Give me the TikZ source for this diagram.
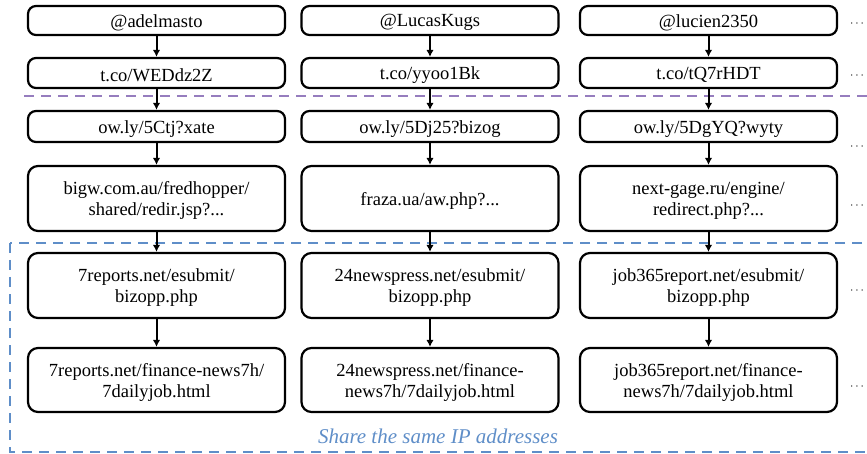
\documentclass[tikz,border=0pt]{standalone}
\usepackage{fontspec}
\setmainfont{Liberation Serif}
\newfontfamily\tnr{Liberation Serif}
\usetikzlibrary{arrows.meta}
\definecolor{purp}{RGB}{150,125,190}
\definecolor{bluel}{RGB}{95,142,200}
\newcommand{\tstrut}{\rule{0pt}{17pt}}
\begin{document}
\begin{tikzpicture}[x=1pt,y=-1pt,
  box/.style={draw,line width=2.2pt,rounded corners=8pt,minimum width=257pt,align=center,
    font=\tnr\fontsize{18.5}{21}\selectfont,inner sep=0pt},
  bigbox/.style={box,rounded corners=10pt},
  arr/.style={-{Latex[length=7pt,width=7.5pt]},line width=2pt},
  dotsn/.style={font=\fontsize{13}{15}\selectfont,inner sep=0pt},
  dashline/.style={line width=2pt,dash pattern=on 10pt off 7pt}]
\clip (0,0) rectangle (867,454);
% dashed separators
\draw[purp,dashline] (24,96) -- (870,96);
\draw[bluel,dashline] (10,243) rectangle (890,452);
\node[text=bluel,font=\tnr\itshape\fontsize{21}{24}\selectfont,anchor=base] (ip) at (438,443) {Share the same IP addresses};
% row 1
\node[box,minimum height=29pt] (u1) at (156.5,20.5) {\tstrut@adelmasto};
\node[box,minimum height=29pt] (u2) at (430,20.5) {\tstrut@LucasKugs};
\node[box,minimum height=29pt] (u3) at (708.5,20.5) {\tstrut@lucien2350};
% row 2
\node[box,minimum height=30pt] (t1) at (156.5,73) {\tstrut t.co/WEDdz2Z};
\node[box,minimum height=30pt] (t2) at (430,73) {\tstrut t.co/yyoo1Bk};
\node[box,minimum height=30pt] (t3) at (708.5,73) {\tstrut t.co/tQ7rHDT};
% row 3
\node[box,minimum height=31pt] (o1) at (156.5,126.5) {\tstrut ow.ly/5Ctj?xate};
\node[box,minimum height=31pt] (o2) at (430,126.5) {\tstrut ow.ly/5Dj25?bizog};
\node[box,minimum height=31pt] (o3) at (708.5,126.5) {\tstrut ow.ly/5DgYQ?wyty};
% row 4
\node[bigbox,minimum height=65pt] (r1) at (156.5,198.5) {\tstrut bigw.com.au/fredhopper/\\shared/redir.jsp?...};
\node[bigbox,minimum height=65pt] (r2) at (430,198.5) {\tstrut fraza.ua/aw.php?...};
\node[bigbox,minimum height=65pt] (r3) at (708.5,198.5) {\tstrut next-gage.ru/engine/\\redirect.php?...};
% row 5
\node[bigbox,minimum height=65pt] (e1) at (156.5,285.5) {\tstrut 7reports.net/esubmit/\\bizopp.php};
\node[bigbox,minimum height=65pt] (e2) at (430,285.5) {\tstrut 24newspress.net/esubmit/\\bizopp.php};
\node[bigbox,minimum height=65pt] (e3) at (708.5,285.5) {\tstrut job365report.net/esubmit/\\bizopp.php};
% row 6
\node[bigbox,minimum height=64pt] (f1) at (156.5,380) {\tstrut 7reports.net/finance-news7h/\\7dailyjob.html};
\node[bigbox,minimum height=64pt] (f2) at (430,380) {\tstrut 24newspress.net/finance-\\news7h/7dailyjob.html};
\node[bigbox,minimum height=64pt] (f3) at (708.5,380) {\tstrut job365report.net/finance-\\news7h/7dailyjob.html};
% arrows
\foreach \i in {1,2,3}{
  \draw[arr] (u\i) -- (t\i);
  \draw[arr] (t\i) -- (o\i);
  \draw[arr] (o\i) -- (r\i);
  \draw[arr] (r\i) -- (e\i);
  \draw[arr] (e\i) -- (f\i);
}
% dots
\node[dotsn] (d1) at (857,24) {$\cdots$};
\node[dotsn] (d2) at (857,76) {$\cdots$};
\node[dotsn] (d3) at (857,147) {$\cdots$};
\node[dotsn] (d4) at (857,206) {$\cdots$};
\node[dotsn] (d5) at (857,291) {$\cdots$};
\node[dotsn] (d6) at (857,387) {$\cdots$};
\end{tikzpicture}
\end{document}
